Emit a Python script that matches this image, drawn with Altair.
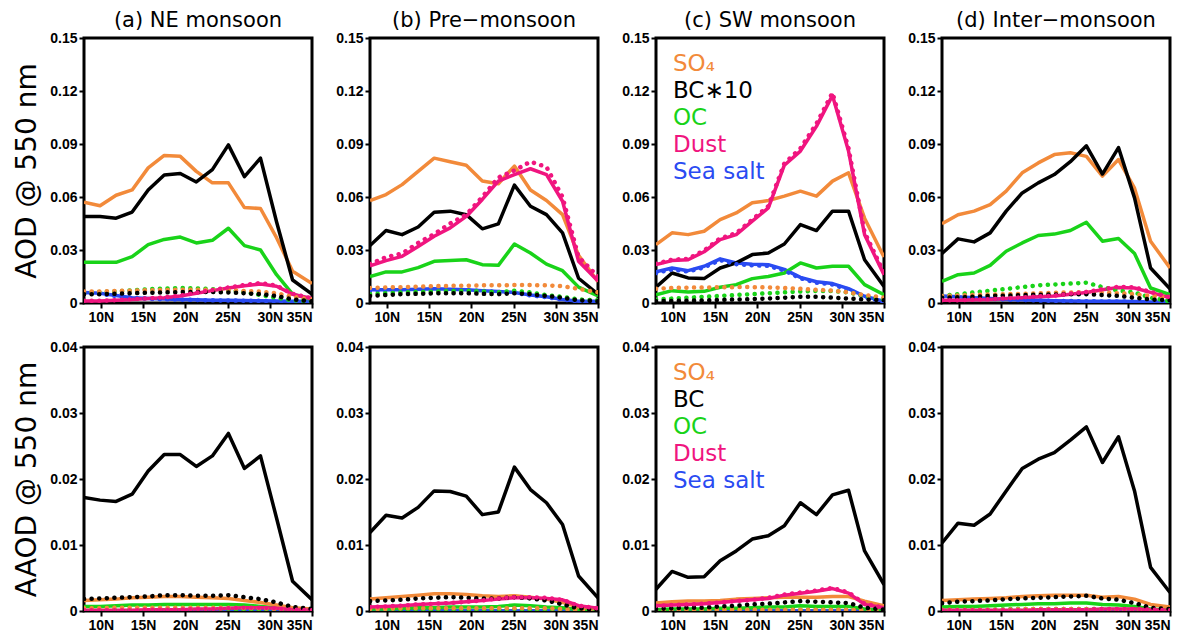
import altair as alt
import pandas as pd

# ---------------- data ----------------
LAT = [8.0, 9.9, 11.8, 13.7, 15.6, 17.5, 19.4, 21.3, 23.2, 25.1, 27.0, 28.9, 30.8, 32.7, 35.0]
SPECIES = ["SO4", "BC", "OC", "Dust", "Sea salt"]
COLORS = ["#F28A3A", "#000000", "#19D319", "#F0157F", "#2A4BF2"]
PANEL_TITLES = ["(a) NE monsoon", "(b) Pre\u2212monsoon", "(c) SW monsoon", "(d) Inter\u2212monsoon"]
LEGEND_AOD = ["SO\u2084", "BC\u221710", "OC", "Dust", "Sea salt"]
LEGEND_AAOD = ["SO\u2084", "BC", "OC", "Dust", "Sea salt"]
AOD_TICKS = [0, 0.03, 0.06, 0.09, 0.12, 0.15]
AAOD_TICKS = [0, 0.01, 0.02, 0.03, 0.04]
LAT_TICKS = [10, 15, 20, 25, 30, 35]

# ---- AOD, (a) NE monsoon (BC scaled x10) ----
A_SO4 = [0.057, 0.055, 0.061, 0.064, 0.0765, 0.0835, 0.083, 0.0745, 0.068, 0.068, 0.054, 0.0535, 0.037, 0.018, 0.011]
A_BC = [0.049, 0.049, 0.048, 0.0515, 0.064, 0.0725, 0.0733, 0.0685, 0.0755, 0.0895, 0.0715, 0.082, 0.046, 0.013, 0.005]
A_OC = [0.023, 0.023, 0.023, 0.0262, 0.033, 0.036, 0.0373, 0.034, 0.0355, 0.0423, 0.0325, 0.030, 0.016, 0.005, 0.002]
A_DUST = [0.0012, 0.0012, 0.0015, 0.002, 0.0025, 0.003, 0.004, 0.0055, 0.007, 0.0085, 0.0098, 0.0108, 0.0095, 0.005, 0.0025]
A_SS = [0.006, 0.0055, 0.0042, 0.003, 0.0025, 0.0022, 0.002, 0.0018, 0.0016, 0.0015, 0.0014, 0.0013, 0.0012, 0.001, 0.001]
A_SO4_DOT = [0.0065, 0.0065, 0.0068, 0.007, 0.0072, 0.0074, 0.0075, 0.0075, 0.0074, 0.0072, 0.0068, 0.0065, 0.0055, 0.0035, 0.002]
A_BC_DOT = [0.005, 0.005, 0.0052, 0.0055, 0.0058, 0.006, 0.0062, 0.0062, 0.0062, 0.006, 0.0055, 0.005, 0.004, 0.002, 0.001]
A_OC_DOT = [0.006, 0.0062, 0.0065, 0.0072, 0.0078, 0.0082, 0.0085, 0.0083, 0.0078, 0.0072, 0.0062, 0.0045, 0.003, 0.0015, 0.001]
A_DUST_DOT = [0.0013, 0.0013, 0.0016, 0.0021, 0.0026, 0.0032, 0.0042, 0.0058, 0.0073, 0.0088, 0.0102, 0.0113, 0.0098, 0.0052, 0.0026]
A_SS_DOT = [0.0058, 0.0052, 0.004, 0.0029, 0.0024, 0.0021, 0.0019, 0.0017, 0.0015, 0.0014, 0.0013, 0.0012, 0.0011, 0.0009, 0.0008]

# ---- AOD, (b) Pre-monsoon ----
B_SO4 = [0.058, 0.0614, 0.067, 0.0745, 0.082, 0.080, 0.078, 0.069, 0.0675, 0.0775, 0.064, 0.058, 0.050, 0.027, 0.012]
B_BC = [0.0325, 0.041, 0.0387, 0.043, 0.0514, 0.052, 0.050, 0.042, 0.0448, 0.0667, 0.0548, 0.050, 0.0397, 0.014, 0.005]
B_OC = [0.015, 0.0176, 0.0176, 0.020, 0.0236, 0.024, 0.0245, 0.0217, 0.0213, 0.0334, 0.0283, 0.022, 0.0183, 0.009, 0.004]
B_DUST = [0.021, 0.024, 0.0264, 0.032, 0.0378, 0.0425, 0.049, 0.0586, 0.069, 0.0727, 0.076, 0.0727, 0.0576, 0.0236, 0.0125]
B_SS = [0.0075, 0.0075, 0.0075, 0.0078, 0.008, 0.0078, 0.0075, 0.007, 0.0065, 0.006, 0.0045, 0.0035, 0.002, 0.001, 0.001]
B_SO4_DOT = [0.0085, 0.0088, 0.009, 0.0093, 0.0095, 0.0097, 0.0098, 0.010, 0.010, 0.0102, 0.0102, 0.010, 0.0095, 0.008, 0.006]
B_BC_DOT = [0.004, 0.0045, 0.005, 0.0052, 0.0055, 0.0056, 0.0055, 0.0052, 0.005, 0.0055, 0.005, 0.004, 0.003, 0.0015, 0.001]
B_OC_DOT = [0.005, 0.0055, 0.006, 0.0062, 0.0065, 0.0068, 0.0068, 0.0065, 0.006, 0.007, 0.006, 0.0045, 0.0035, 0.002, 0.0015]
B_DUST_DOT = [0.022, 0.026, 0.028, 0.034, 0.039, 0.045, 0.050, 0.060, 0.071, 0.075, 0.080, 0.077, 0.060, 0.026, 0.015]
B_SS_DOT = [0.0072, 0.0072, 0.0073, 0.0076, 0.0078, 0.0076, 0.0073, 0.0068, 0.0063, 0.0058, 0.0043, 0.0033, 0.0019, 0.001, 0.0009]

# ---- AOD, (c) SW monsoon ----
C_SO4 = [0.033, 0.0397, 0.0387, 0.0406, 0.0472, 0.051, 0.0567, 0.058, 0.0605, 0.0633, 0.0605, 0.069, 0.0737, 0.048, 0.026]
C_BC = [0.009, 0.017, 0.0142, 0.0138, 0.0198, 0.0227, 0.0274, 0.0283, 0.0334, 0.0444, 0.041, 0.052, 0.052, 0.0245, 0.0094]
C_OC = [0.0047, 0.007, 0.0062, 0.0066, 0.0089, 0.0104, 0.0138, 0.015, 0.017, 0.0227, 0.0198, 0.0208, 0.0208, 0.0104, 0.0047]
C_DUST = [0.0217, 0.024, 0.0245, 0.029, 0.0359, 0.0387, 0.0463, 0.0538, 0.078, 0.086, 0.100, 0.1175, 0.086, 0.0387, 0.016]
C_SS = [0.0176, 0.0198, 0.0183, 0.0208, 0.025, 0.0227, 0.022, 0.0217, 0.019, 0.0145, 0.012, 0.011, 0.0081, 0.0038, 0.001]
C_SO4_DOT = [0.008, 0.0085, 0.0087, 0.0088, 0.0089, 0.009, 0.009, 0.0088, 0.0085, 0.008, 0.0075, 0.007, 0.006, 0.0045, 0.003]
C_BC_DOT = [0.001, 0.0012, 0.0013, 0.0015, 0.0017, 0.002, 0.0022, 0.0025, 0.003, 0.0035, 0.0035, 0.003, 0.0025, 0.002, 0.0015]
C_OC_DOT = [0.002, 0.0025, 0.003, 0.0035, 0.004, 0.0045, 0.005, 0.0055, 0.006, 0.0065, 0.0068, 0.0068, 0.006, 0.004, 0.002]
C_DUST_DOT = [0.0222, 0.0245, 0.025, 0.0297, 0.0366, 0.0395, 0.0472, 0.0548, 0.079, 0.0875, 0.1015, 0.119, 0.0875, 0.040, 0.017]
C_SS_DOT = [0.017, 0.019, 0.0178, 0.0202, 0.0243, 0.022, 0.0213, 0.021, 0.0184, 0.014, 0.0115, 0.0105, 0.0076, 0.0034, 0.0008]

# ---- AOD, (d) Inter-monsoon ----
D_SO4 = [0.0448, 0.050, 0.052, 0.0557, 0.0633, 0.0737, 0.0793, 0.084, 0.085, 0.083, 0.0718, 0.0812, 0.065, 0.035, 0.0198]
D_BC = [0.028, 0.0363, 0.0346, 0.0397, 0.052, 0.0623, 0.068, 0.0727, 0.080, 0.089, 0.073, 0.088, 0.0595, 0.0198, 0.0081]
D_OC = [0.0123, 0.016, 0.017, 0.0213, 0.0293, 0.034, 0.0382, 0.039, 0.041, 0.0457, 0.035, 0.0365, 0.028, 0.0085, 0.0047]
D_DUST = [0.0015, 0.0015, 0.0018, 0.002, 0.0025, 0.003, 0.0035, 0.004, 0.005, 0.006, 0.0075, 0.0088, 0.0085, 0.006, 0.003]
D_SS = [0.004, 0.0035, 0.003, 0.0025, 0.002, 0.0018, 0.0015, 0.0013, 0.0012, 0.001, 0.001, 0.001, 0.0008, 0.0005, 0.0005]
D_SO4_DOT = [0.004, 0.0042, 0.0045, 0.0048, 0.005, 0.0052, 0.0055, 0.0058, 0.006, 0.0062, 0.006, 0.0055, 0.005, 0.004, 0.003]
D_BC_DOT = [0.003, 0.0032, 0.0035, 0.004, 0.0042, 0.0045, 0.0047, 0.0048, 0.005, 0.005, 0.0045, 0.004, 0.003, 0.002, 0.0015]
D_OC_DOT = [0.004, 0.005, 0.006, 0.007, 0.008, 0.009, 0.010, 0.0105, 0.011, 0.0115, 0.009, 0.007, 0.006, 0.003, 0.001]
D_DUST_DOT = [0.0016, 0.0016, 0.0019, 0.0021, 0.0026, 0.0032, 0.0037, 0.0042, 0.0053, 0.0063, 0.0078, 0.0092, 0.0089, 0.0063, 0.0032]
D_SS_DOT = [0.0038, 0.0033, 0.0028, 0.0024, 0.0019, 0.0017, 0.0014, 0.0012, 0.0011, 0.001, 0.0009, 0.0009, 0.0007, 0.0005, 0.0004]

# ---- AAOD, (a)-(d) ----
AA_A_SO4 = [0.0016, 0.0017, 0.0018, 0.0020, 0.0021, 0.0022, 0.0022, 0.0021, 0.0020, 0.0019, 0.0016, 0.0013, 0.0009, 0.0005, 0.0003]
AA_A_BC = [0.0172, 0.0168, 0.0166, 0.0177, 0.0212, 0.0237, 0.0237, 0.0219, 0.0235, 0.0269, 0.0216, 0.0235, 0.0141, 0.0045, 0.0017]
AA_A_OC = [0.0007, 0.0007, 0.0008, 0.0009, 0.0009, 0.0010, 0.0010, 0.0010, 0.0010, 0.0010, 0.0009, 0.0007, 0.0005, 0.0002, 0.0001]
AA_A_DUST = [0.0001, 0.0001, 0.0001, 0.0001, 0.0002, 0.0002, 0.0002, 0.0003, 0.0003, 0.0004, 0.0005, 0.0005, 0.0004, 0.0002, 0.0001]
AA_A_SS = [0.0, 0.0, 0.0, 0.0, 0.0, 0.0, 0.0, 0.0, 0.0, 0.0, 0.0, 0.0, 0.0, 0.0, 0.0]
AA_A_SO4_DOT = [0.0004, 0.0004, 0.0005, 0.0005, 0.0005, 0.0005, 0.0005, 0.0005, 0.0005, 0.0005, 0.0004, 0.0004, 0.0003, 0.0002, 0.0001]
AA_A_BC_DOT = [0.0018, 0.0019, 0.0020, 0.0021, 0.0022, 0.0024, 0.0024, 0.0023, 0.0023, 0.0024, 0.0021, 0.0018, 0.0013, 0.0006, 0.0003]
AA_A_OC_DOT = [0.0002, 0.0002, 0.0002, 0.0002, 0.0002, 0.0003, 0.0003, 0.0003, 0.0003, 0.0003, 0.0002, 0.0002, 0.0001, 0.0001, 0.0001]
AA_A_DUST_DOT = [0.0001, 0.0001, 0.0001, 0.0001, 0.0002, 0.0002, 0.0002, 0.0003, 0.0003, 0.0004, 0.0005, 0.0005, 0.0004, 0.0002, 0.0001]
AA_A_SS_DOT = [0.0, 0.0, 0.0, 0.0, 0.0, 0.0, 0.0, 0.0, 0.0, 0.0, 0.0, 0.0, 0.0, 0.0, 0.0]

AA_B_SO4 = [0.0018, 0.0020, 0.0022, 0.0024, 0.0026, 0.0026, 0.0025, 0.0023, 0.0022, 0.0023, 0.0021, 0.0018, 0.0013, 0.0006, 0.0003]
AA_B_BC = [0.0119, 0.0145, 0.0141, 0.0157, 0.0182, 0.0181, 0.0174, 0.0146, 0.0150, 0.0218, 0.0184, 0.0164, 0.0131, 0.0053, 0.0020]
AA_B_OC = [0.0003, 0.0003, 0.0004, 0.0005, 0.0005, 0.0006, 0.0006, 0.0006, 0.0007, 0.0009, 0.0008, 0.0006, 0.0005, 0.0002, 0.0001]
AA_B_DUST = [0.0006, 0.0007, 0.0008, 0.0010, 0.0011, 0.0012, 0.0014, 0.0016, 0.0018, 0.0020, 0.0020, 0.0019, 0.0017, 0.0008, 0.0004]
AA_B_SS = [0.0, 0.0, 0.0, 0.0, 0.0, 0.0, 0.0, 0.0, 0.0, 0.0, 0.0, 0.0, 0.0, 0.0, 0.0]
AA_B_SO4_DOT = [0.0003, 0.0003, 0.0004, 0.0004, 0.0004, 0.0004, 0.0004, 0.0004, 0.0004, 0.0004, 0.0004, 0.0004, 0.0003, 0.0002, 0.0001]
AA_B_BC_DOT = [0.0015, 0.0016, 0.0017, 0.0019, 0.0020, 0.0021, 0.0020, 0.0019, 0.0019, 0.0021, 0.0019, 0.0016, 0.0010, 0.0004, 0.0002]
AA_B_OC_DOT = [0.0001, 0.0001, 0.0001, 0.0002, 0.0002, 0.0002, 0.0002, 0.0002, 0.0002, 0.0003, 0.0002, 0.0002, 0.0001, 0.0001, 0.0001]
AA_B_DUST_DOT = [0.0006, 0.0007, 0.0008, 0.0010, 0.0011, 0.0012, 0.0014, 0.0016, 0.0019, 0.0021, 0.0021, 0.0020, 0.0017, 0.0008, 0.0004]
AA_B_SS_DOT = [0.0, 0.0, 0.0, 0.0, 0.0, 0.0, 0.0, 0.0, 0.0, 0.0, 0.0, 0.0, 0.0, 0.0, 0.0]

AA_C_SO4 = [0.0012, 0.0014, 0.0015, 0.0015, 0.0016, 0.0018, 0.0019, 0.0020, 0.0021, 0.0021, 0.0021, 0.0022, 0.0022, 0.0015, 0.0008]
AA_C_BC = [0.0033, 0.0060, 0.0051, 0.0052, 0.0076, 0.0091, 0.0109, 0.0114, 0.0129, 0.0164, 0.0146, 0.0176, 0.0183, 0.0091, 0.0040]
AA_C_OC = [0.0002, 0.0003, 0.0003, 0.0003, 0.0004, 0.0004, 0.0005, 0.0006, 0.0006, 0.0008, 0.0007, 0.0007, 0.0007, 0.0003, 0.0001]
AA_C_DUST = [0.0008, 0.0009, 0.0010, 0.0011, 0.0013, 0.0015, 0.0017, 0.0019, 0.0024, 0.0027, 0.0030, 0.0034, 0.0027, 0.0010, 0.0005]
AA_C_SS = [0.0, 0.0, 0.0, 0.0, 0.0, 0.0, 0.0, 0.0, 0.0, 0.0, 0.0, 0.0, 0.0, 0.0, 0.0]
AA_C_SO4_DOT = [0.0002, 0.0002, 0.0002, 0.0002, 0.0002, 0.0002, 0.0002, 0.0002, 0.0002, 0.0002, 0.0002, 0.0002, 0.0002, 0.0001, 0.0001]
AA_C_BC_DOT = [0.0003, 0.0004, 0.0005, 0.0005, 0.0007, 0.0008, 0.0010, 0.0011, 0.0013, 0.0015, 0.0014, 0.0013, 0.0012, 0.0005, 0.0002]
AA_C_OC_DOT = [0.0001, 0.0001, 0.0001, 0.0001, 0.0001, 0.0001, 0.0002, 0.0002, 0.0002, 0.0002, 0.0002, 0.0002, 0.0002, 0.0001, 0.0001]
AA_C_DUST_DOT = [0.0008, 0.0009, 0.0010, 0.0011, 0.0013, 0.0015, 0.0017, 0.0020, 0.0025, 0.0028, 0.0031, 0.0035, 0.0028, 0.0011, 0.0005]
AA_C_SS_DOT = [0.0, 0.0, 0.0, 0.0, 0.0, 0.0, 0.0, 0.0, 0.0, 0.0, 0.0, 0.0, 0.0, 0.0, 0.0]

AA_D_SO4 = [0.0016, 0.0017, 0.0018, 0.0019, 0.0020, 0.0022, 0.0023, 0.0024, 0.0024, 0.0024, 0.0021, 0.0022, 0.0018, 0.0010, 0.0006]
AA_D_BC = [0.0103, 0.0133, 0.0130, 0.0147, 0.0182, 0.0216, 0.0230, 0.0240, 0.0259, 0.0279, 0.0225, 0.0264, 0.0182, 0.0066, 0.0028]
AA_D_OC = [0.0006, 0.0007, 0.0007, 0.0008, 0.0009, 0.0010, 0.0011, 0.0011, 0.0012, 0.0012, 0.0010, 0.0009, 0.0007, 0.0003, 0.0001]
AA_D_DUST = [0.0001, 0.0001, 0.0001, 0.0001, 0.0001, 0.0001, 0.0002, 0.0002, 0.0002, 0.0002, 0.0003, 0.0003, 0.0003, 0.0002, 0.0001]
AA_D_SS = [0.0, 0.0, 0.0, 0.0, 0.0, 0.0, 0.0, 0.0, 0.0, 0.0, 0.0, 0.0, 0.0, 0.0, 0.0]
AA_D_SO4_DOT = [0.0002, 0.0002, 0.0002, 0.0002, 0.0002, 0.0003, 0.0003, 0.0003, 0.0003, 0.0003, 0.0003, 0.0002, 0.0002, 0.0001, 0.0001]
AA_D_BC_DOT = [0.0012, 0.0014, 0.0015, 0.0016, 0.0018, 0.0019, 0.0020, 0.0021, 0.0022, 0.0023, 0.0019, 0.0017, 0.0012, 0.0005, 0.0003]
AA_D_OC_DOT = [0.0002, 0.0002, 0.0002, 0.0002, 0.0003, 0.0003, 0.0003, 0.0003, 0.0003, 0.0003, 0.0003, 0.0002, 0.0002, 0.0001, 0.0001]
AA_D_DUST_DOT = [0.0001, 0.0001, 0.0001, 0.0001, 0.0001, 0.0001, 0.0002, 0.0002, 0.0002, 0.0002, 0.0003, 0.0003, 0.0003, 0.0002, 0.0001]
AA_D_SS_DOT = [0.0, 0.0, 0.0, 0.0, 0.0, 0.0, 0.0, 0.0, 0.0, 0.0, 0.0, 0.0, 0.0, 0.0, 0.0]

# ---------------- assemble ----------------
COLOR_OF = dict(zip(SPECIES, COLORS))
SOLID_ORDER = ["Sea salt", "OC", "SO4", "BC", "Dust"]
DOT_ORDER = ["Sea salt", "OC", "SO4", "BC", "Dust"]

TOP = [
    ({"SO4": A_SO4, "BC": A_BC, "OC": A_OC, "Dust": A_DUST, "Sea salt": A_SS},
     {"SO4": A_SO4_DOT, "BC": A_BC_DOT, "OC": A_OC_DOT, "Dust": A_DUST_DOT, "Sea salt": A_SS_DOT}),
    ({"SO4": B_SO4, "BC": B_BC, "OC": B_OC, "Dust": B_DUST, "Sea salt": B_SS},
     {"SO4": B_SO4_DOT, "BC": B_BC_DOT, "OC": B_OC_DOT, "Dust": B_DUST_DOT, "Sea salt": B_SS_DOT}),
    ({"SO4": C_SO4, "BC": C_BC, "OC": C_OC, "Dust": C_DUST, "Sea salt": C_SS},
     {"SO4": C_SO4_DOT, "BC": C_BC_DOT, "OC": C_OC_DOT, "Dust": C_DUST_DOT, "Sea salt": C_SS_DOT}),
    ({"SO4": D_SO4, "BC": D_BC, "OC": D_OC, "Dust": D_DUST, "Sea salt": D_SS},
     {"SO4": D_SO4_DOT, "BC": D_BC_DOT, "OC": D_OC_DOT, "Dust": D_DUST_DOT, "Sea salt": D_SS_DOT}),
]
BOTTOM = [
    ({"SO4": AA_A_SO4, "BC": AA_A_BC, "OC": AA_A_OC, "Dust": AA_A_DUST, "Sea salt": AA_A_SS},
     {"SO4": AA_A_SO4_DOT, "BC": AA_A_BC_DOT, "OC": AA_A_OC_DOT, "Dust": AA_A_DUST_DOT, "Sea salt": AA_A_SS_DOT}),
    ({"SO4": AA_B_SO4, "BC": AA_B_BC, "OC": AA_B_OC, "Dust": AA_B_DUST, "Sea salt": AA_B_SS},
     {"SO4": AA_B_SO4_DOT, "BC": AA_B_BC_DOT, "OC": AA_B_OC_DOT, "Dust": AA_B_DUST_DOT, "Sea salt": AA_B_SS_DOT}),
    ({"SO4": AA_C_SO4, "BC": AA_C_BC, "OC": AA_C_OC, "Dust": AA_C_DUST, "Sea salt": AA_C_SS},
     {"SO4": AA_C_SO4_DOT, "BC": AA_C_BC_DOT, "OC": AA_C_OC_DOT, "Dust": AA_C_DUST_DOT, "Sea salt": AA_C_SS_DOT}),
    ({"SO4": AA_D_SO4, "BC": AA_D_BC, "OC": AA_D_OC, "Dust": AA_D_DUST, "Sea salt": AA_D_SS},
     {"SO4": AA_D_SO4_DOT, "BC": AA_D_BC_DOT, "OC": AA_D_OC_DOT, "Dust": AA_D_DUST_DOT, "Sea salt": AA_D_SS_DOT}),
]


def make_panel(solid, dotted, ymax, yticks, height, ytitle, title, legend):
    rows = []
    for style, src in (("solid", solid), ("dot", dotted)):
        for sp in SPECIES:
            for lat, v in zip(LAT, src[sp]):
                rows.append({"lat": lat, "val": v, "sp": sp, "style": style})
    df = pd.DataFrame(rows)
    x = alt.X("lat:Q", scale=alt.Scale(domain=[8, 35], nice=False, zero=False),
              axis=alt.Axis(values=LAT_TICKS, labelExpr="datum.value + 'N'", title=None, grid=False))
    yaxis = alt.Axis(values=yticks, grid=False,
                     labelExpr="datum.value == 0 ? '0' : format(datum.value, '.2f')",
                     title=ytitle if ytitle else None, titlePadding=8)
    y = alt.Y("val:Q", scale=alt.Scale(domain=[0, ymax], nice=False), axis=yaxis)
    base = alt.Chart(df)
    layers = []
    for sp in SOLID_ORDER:
        layers.append(base.transform_filter(f"datum.sp == '{sp}' && datum.style == 'solid'")
                      .mark_line(color=COLOR_OF[sp], strokeWidth=3.5, clip=True, strokeJoin="round")
                      .encode(x=x, y=y))
    for sp in DOT_ORDER:
        layers.append(base.transform_filter(f"datum.sp == '{sp}' && datum.style == 'dot'")
                      .mark_line(color=COLOR_OF[sp], strokeWidth=4.5, strokeDash=[0.1, 7.5],
                                 strokeCap="round", clip=True)
                      .encode(x=x, y=y))
    if legend:
        for i, (lab, sp) in enumerate(zip(legend, SPECIES)):
            layers.append(alt.Chart(pd.DataFrame({"label": [lab]}))
                          .mark_text(align="left", baseline="middle", fontSize=23,
                                     font="DejaVu Sans", color=COLOR_OF[sp])
                          .encode(text="label:N", x=alt.value(17), y=alt.value(26 + 27 * i)))
    props = {"width": 228, "height": height}
    if title:
        props["title"] = alt.TitleParams(title, fontSize=21, font="DejaVu Sans", fontWeight="normal",
                                         color="black", offset=0, anchor="middle")
    return alt.layer(*layers).properties(**props)


panels = []
for i in range(4):
    s, d = TOP[i]
    panels.append(make_panel(s, d, 0.15, AOD_TICKS, 265,
                             "AOD @ 550 nm" if i == 0 else None,
                             PANEL_TITLES[i], LEGEND_AOD if i == 2 else None))
for i in range(4):
    s, d = BOTTOM[i]
    panels.append(make_panel(s, d, 0.04, AAOD_TICKS, 264,
                             "AAOD @ 550 nm" if i == 0 else None,
                             None, LEGEND_AAOD if i == 2 else None))

chart = alt.concat(
    *panels, columns=4, spacing={"row": 44, "column": 58}, bounds="flush",
).properties(
    padding={"left": 4, "top": 0, "right": 5, "bottom": 5}
).configure_view(
    stroke="black", strokeWidth=3
).configure_axis(
    domain=False, tickColor="black", tickWidth=2, tickSize=5,
    labelFont="Liberation Sans", labelFontWeight="bold", labelFontSize=14, labelColor="black",
    labelPadding=2, titleFont="DejaVu Sans", titleFontWeight="normal", titleFontSize=28,
    titleColor="black",
)

chart.save("out.html", embed_options={"renderer": "svg", "actions": False})
